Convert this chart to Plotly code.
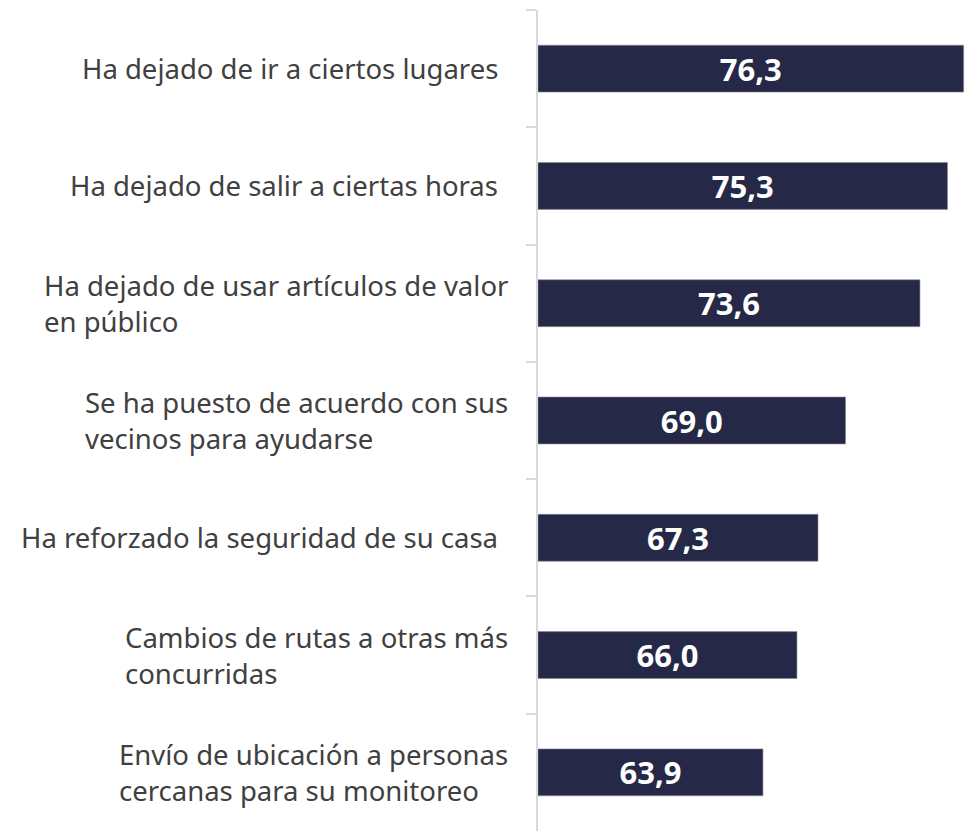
import plotly.graph_objects as go

categories = [
    "Ha dejado de ir a ciertos lugares",
    "Ha dejado de salir a ciertas horas",
    "Ha dejado de usar artículos de valor<br>en público",
    "Se ha puesto de acuerdo con sus<br>vecinos para ayudarse",
    "Ha reforzado la seguridad de su casa",
    "Cambios de rutas a otras más<br>concurridas",
    "Envío de ubicación a personas<br>cercanas para su monitoreo",
]
values = [76.3, 75.3, 73.6, 69.0, 67.3, 66.0, 63.9]
value_labels = ["76,3", "75,3", "73,6", "69,0", "67,3", "66,0", "63,9"]
label_shift = [-38, -38, -28, -28, -38, -28, -28]

AXIS_START = 50
AXIS_END = 77
FONT = "Noto Sans"
BAR = "#252947"
AXIS = "#d9d9d9"

fig = go.Figure(go.Bar(
    x=[v - AXIS_START for v in values], base=[AXIS_START] * len(values),
    y=categories, orientation="h",
    marker=dict(color=BAR, line=dict(color="#8a8ca0", width=0.6)),
    width=0.4,
    text=value_labels,
    textposition="inside", insidetextanchor="middle", textangle=0,
    textfont=dict(family=FONT, size=31, color="white", weight="bold"),
    constraintext="none",
    hoverinfo="skip",
))

annotations = []
for cat, sh in zip(categories, label_shift):
    annotations.append(dict(
        x=0, xref="paper", y=cat, yref="y", xanchor="right", yanchor="middle",
        xshift=sh, text=cat, align="left", showarrow=False,
        font=dict(family=FONT, size=27.5, color="#404040"),
    ))

fig.update_layout(
    width=967, height=823,
    margin=dict(l=530, r=0, t=2, b=0),
    paper_bgcolor="white", plot_bgcolor="white",
    showlegend=False,
    annotations=annotations,
    xaxis=dict(range=[AXIS_START, AXIS_END], visible=False),
    yaxis=dict(
        autorange="reversed", showticklabels=False,
        showline=True, linecolor=AXIS, linewidth=2,
        ticks="outside", ticklen=10, tickcolor=AXIS, tickwidth=2,
        tickson="boundaries", showgrid=False, zeroline=False,
    ),
)

fig.write_html("out.html")
